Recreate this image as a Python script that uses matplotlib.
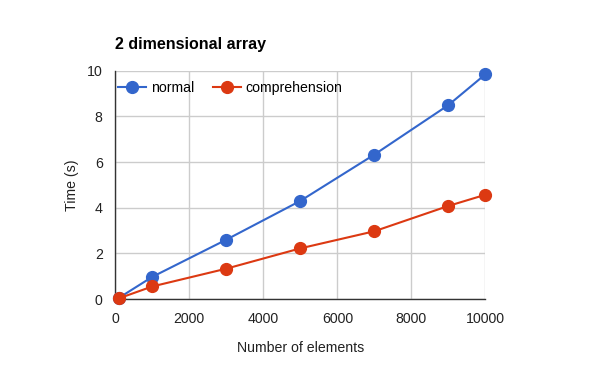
import matplotlib.pyplot as plt

plt.rcParams['font.family'] = ['Liberation Sans', 'DejaVu Sans']

elements = [100, 1000, 3000, 5000, 7000, 9000, 10000]
normal = [0.05, 0.97, 2.6, 4.3, 6.33, 8.5, 9.85]
comprehension = [0.03, 0.55, 1.33, 2.22, 2.97, 4.08, 4.57]

fig = plt.figure(figsize=(6, 3.71), dpi=100)
ax = fig.add_axes([0.192, 0.194, 0.617, 0.615])

ax.plot(elements, normal, color='#3366cc', marker='o', markersize=8.5,
        linewidth=1.5, label='normal', clip_on=False, zorder=3)
ax.plot(elements, comprehension, color='#dc3912', marker='o', markersize=8.5,
        linewidth=1.5, label='comprehension', clip_on=False, zorder=3)

ax.set_xlim(0, 10000)
ax.set_ylim(0, 10)
ax.set_xticks(range(0, 10001, 2000))
ax.set_yticks(range(0, 11, 2))

ax.grid(True, color='#cccccc', linewidth=1)
ax.set_axisbelow(True)
for s in ['top', 'right']:
    ax.spines[s].set_visible(False)
for s in ['left', 'bottom']:
    ax.spines[s].set_color('#333333')
    ax.spines[s].set_linewidth(1)
ax.tick_params(length=0, labelsize=10.2, labelcolor='#222222')
ax.tick_params(axis='x', pad=9)
ax.tick_params(axis='y', pad=9)

ax.set_xlabel('Number of elements', fontsize=10.2, color='#222222', labelpad=11)
ax.set_ylabel('Time (s)', fontsize=10.2, color='#222222', labelpad=5.5)

fig.text(0.192, 0.879, '2 dimensional array', fontsize=11.5, fontweight='bold',
         ha='left', va='center')

ax.legend(loc='upper left', bbox_to_anchor=(-0.005, 0.975), ncol=2, frameon=False,
          fontsize=10.2, handlelength=2.0, handletextpad=0.35, columnspacing=1.3,
          borderaxespad=0, borderpad=0.3)

plt.savefig('out.png', dpi=100)
